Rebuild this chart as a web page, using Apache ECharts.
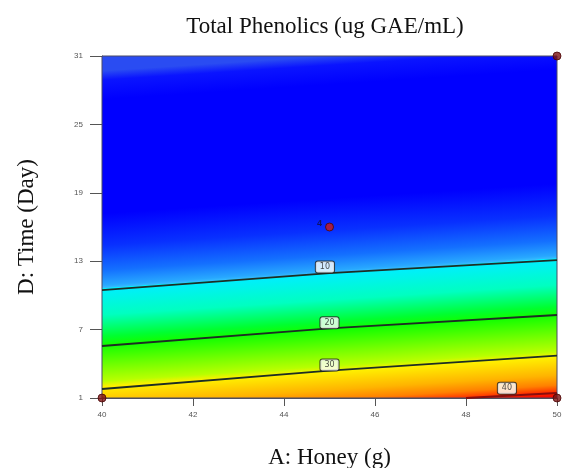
<!DOCTYPE html>
<html><head><meta charset="utf-8">
<script src="https://cdn.jsdelivr.net/npm/echarts@6/dist/echarts.min.js"></script>
<style>html,body{margin:0;padding:0;background:#fff}#c{width:565px;height:468px}</style>
</head><body><div id="c"></div>
<script>
const titleText = 'Total Phenolics (ug GAE/mL)';
const xName = 'A: Honey (g)';
const yName = 'D: Time (Day)';
const xTicks = [40, 42, 44, 46, 48, 50];
const yTicks = [1, 7, 13, 19, 25, 31];
const contourLevels = [10, 20, 30, 40];
const contourA = [[40, 45, 50], [40, 45, 50], [40, 45, 50], [48, 50]];
const contourD = [[10.47, 11.96, 13.1], [5.56, 7.1, 8.28], [1.79, 3.4, 4.71], [1, 1.44]];
const labelA = [44.9, 45, 45, 48.9];
const labelD = [12.5, 7.6, 3.9, 1.85];
const designA = [40, 50, 50, 45];
const designD = [1, 1, 31, 16];
const designReps = [1, 1, 1, 4];
// colour of the response surface read along the column A = 45
const profileA = 45;
const profileD = [31, 30.2, 28.5, 18.5, 15.7, 13.5, 12.2, 11.97, 11.93, 9.6, 7.7, 7.0, 5.2, 3.8, 3.3, 1.7, 0.82, 0.12, -0.3];
const profileColor = ['#2a4cf2', '#0a14ff', '#0000ff', '#0000ff', '#0830ff', '#1470ff', '#28a8ff', '#34bcff', '#00eeff', '#00ffc0', '#00ff30', '#10ff00', '#70ff00', '#b8ff00', '#fff000', '#ffb400', '#ff8000', '#ff2000', '#f00000'];

const serif = "'Liberation Serif', 'DejaVu Serif', serif";
const xMin = xTicks[0], xMax = xTicks[xTicks.length - 1];
const yMin = yTicks[0], yMax = yTicks[yTicks.length - 1];

function renderFill(params, api) {
  const corners = [[xMin, yMin], [xMax, yMin], [xMax, yMax], [xMin, yMax]].map(p => api.coord(p));
  let dx = 0, dy = 0;
  contourA.forEach((as, i) => {
    const n = as.length - 1;
    const p0 = api.coord([as[0], contourD[i][0]]);
    const p1 = api.coord([as[n], contourD[i][n]]);
    const L = Math.hypot(p1[0] - p0[0], p1[1] - p0[1]);
    dx += (p1[0] - p0[0]) / L; dy += (p1[1] - p0[1]) / L;
  });
  const L = Math.hypot(dx, dy); dx /= L; dy /= L;
  let nx = -dy, ny = dx; if (ny < 0) { nx = -nx; ny = -ny; }
  const pts = profileD.map(d => api.coord([profileA, d]));
  const S = pts[0];
  const proj = pts.map(p => (p[0] - S[0]) * nx + (p[1] - S[1]) * ny);
  const Lmax = proj[proj.length - 1];
  const stops = proj.map((t, i) => ({ offset: Math.min(1, Math.max(0, t / Lmax)), color: profileColor[i] }));
  return {
    type: 'polygon', silent: true,
    shape: { points: corners },
    style: {
      fill: new echarts.graphic.LinearGradient(S[0], S[1], S[0] + nx * Lmax, S[1] + ny * Lmax, stops, true),
      stroke: '#4a4a66', lineWidth: 1
    }
  };
}

const series = [{
  type: 'custom', renderItem: renderFill, data: [[45, 16]], z: 1, silent: true, clip: false
}];
contourLevels.forEach((lv, i) => {
  series.push({
    type: 'line', name: 'c' + lv, z: 3, symbol: 'none', silent: true,
    data: contourA[i].map((a, j) => [a, contourD[i][j]]),
    lineStyle: { color: lv === 40 ? '#8a0d0d' : '#1d2e24', width: 1.8 }
  });
});
series.push({
  type: 'scatter', z: 5, symbolSize: 0, silent: true, clip: false,
  data: labelA.map((a, i) => [a, labelD[i], contourLevels[i]]),
  label: {
    show: true, position: 'inside', formatter: p => String(p.value[2]),
    fontSize: 8, color: '#222', backgroundColor: '#fff', borderColor: '#222', borderWidth: 1,
    padding: [2, 4, 1, 4], borderRadius: 2, fontFamily: 'DejaVu Sans'
  }
});
series.push({
  type: 'scatter', z: 6, symbolSize: 8, clip: false, silent: true,
  data: designA.map((a, i) => [a, designD[i], designReps[i]]),
  itemStyle: { color: p => p.value[2] > 1 ? '#cc1a1a' : '#7a1212', borderColor: '#4a0505', borderWidth: 1 },
  label: {
    show: true, position: 'left', distance: 3, offset: [0, -3],
    formatter: p => p.value[2] > 1 ? String(p.value[2]) : '',
    fontSize: 9, fontWeight: 'bold', color: '#101040'
  }
});

const chart = echarts.init(document.getElementById('c'), null, { renderer: 'canvas' });
chart.setOption({
  animation: false,
  backgroundColor: '#fff',
  title: {
    text: titleText, left: 325, top: 15, textAlign: 'center', padding: 0,
    textStyle: { fontFamily: serif, fontSize: 23, fontWeight: 'normal', color: '#111' }
  },
  grid: { left: 102, right: 8, top: 56, bottom: 70, outerBoundsMode: 'none', containLabel: false },
  xAxis: {
    type: 'value', min: xMin, max: xMax, interval: 2,
    name: xName, nameLocation: 'middle', nameGap: 48,
    nameTextStyle: { fontFamily: serif, fontSize: 23, color: '#111' },
    axisLine: { show: true, lineStyle: { color: '#555', width: 1 } },
    axisTick: { show: true, length: 8, lineStyle: { color: '#555' }, customValues: xTicks },
    axisLabel: { fontSize: 8, color: '#555', margin: 13, customValues: xTicks },
    splitLine: { show: false }
  },
  yAxis: {
    type: 'value', min: yMin, max: yMax,
    name: yName, nameLocation: 'middle', nameGap: 64, nameRotate: 90,
    nameTextStyle: { fontFamily: serif, fontSize: 23, color: '#111' },
    axisLine: { show: true, lineStyle: { color: '#555', width: 1 } },
    axisTick: { show: true, length: 12, lineStyle: { color: '#555' }, customValues: yTicks },
    axisLabel: { fontSize: 8, color: '#555', margin: 19, customValues: yTicks },
    splitLine: { show: false }
  },
  series: series
});
</script></body></html>
